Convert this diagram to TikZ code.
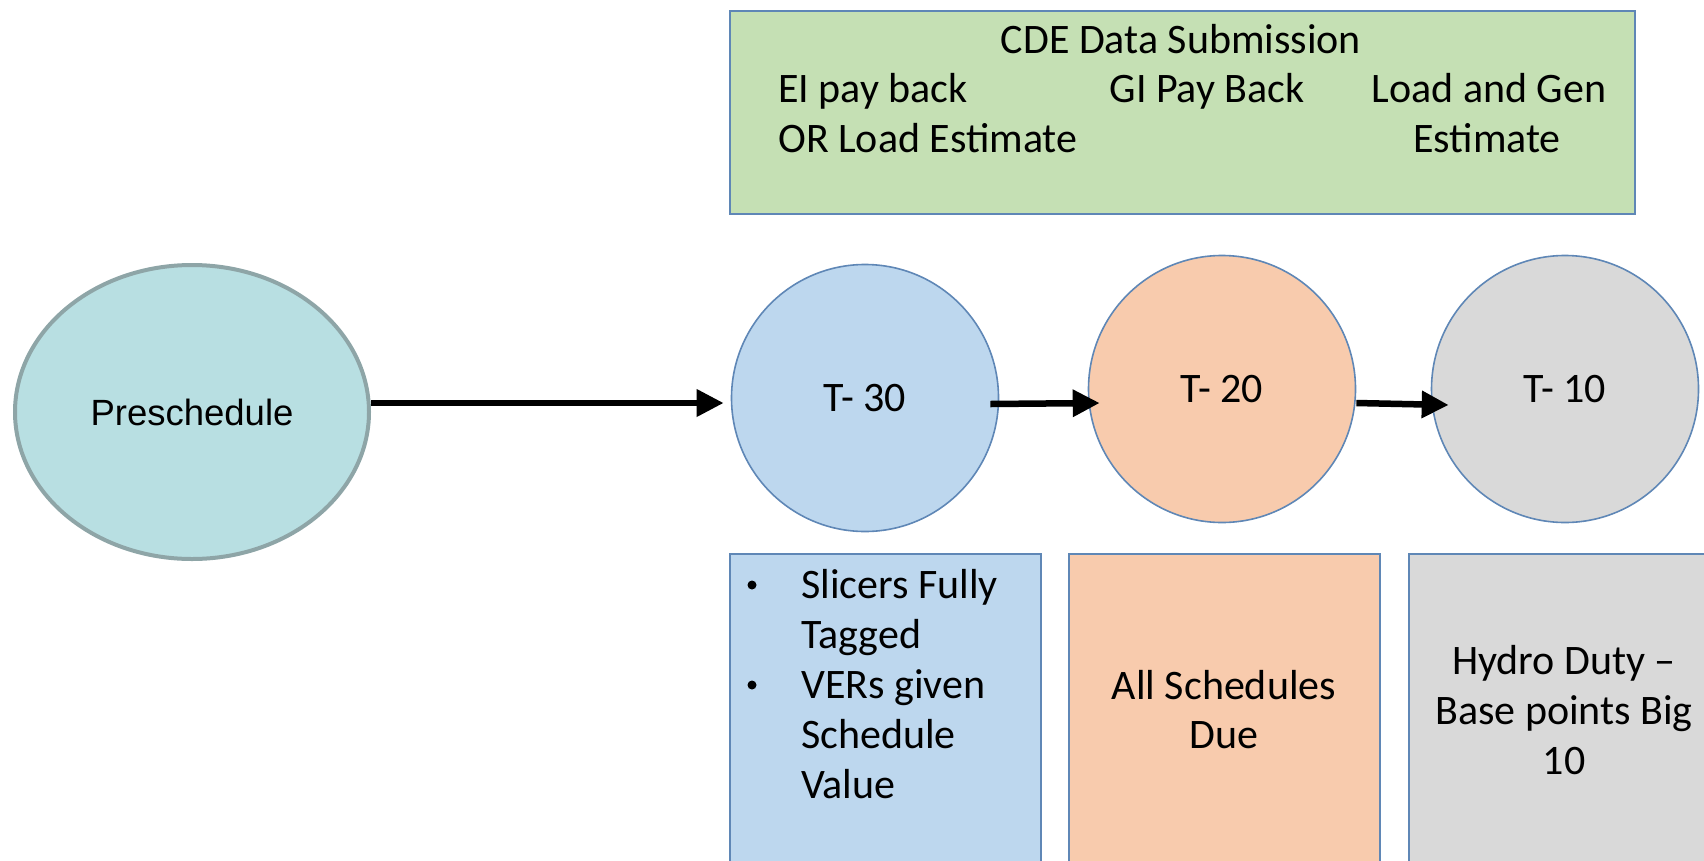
\documentclass[tikz,border=0pt]{standalone}
\usepackage{fontspec}
\setmainfont{Carlito}
\newfontfamily\arialfont{Liberation Sans}
\usetikzlibrary{arrows.meta,shapes.geometric}

\definecolor{greenfill}{HTML}{C5E0B4}
\definecolor{bluefill}{HTML}{BDD7EE}
\definecolor{peachfill}{HTML}{F8CBAD}
\definecolor{greyfill}{HTML}{D9D9D9}
\definecolor{tealfill}{HTML}{B8DFE2}
\definecolor{tealline}{HTML}{8EA5A7}
\definecolor{framecol}{HTML}{5F87B6}

\newcommand\bodyfont{\fontsize{42}{50}\selectfont}

\begin{document}
\begin{tikzpicture}[x=1pt,y=-1pt,
  panel/.style={draw=framecol,line width=1.8pt},
  stage/.style={circle,draw=framecol,line width=1.6pt,minimum size=267pt,inner sep=0pt,font=\bodyfont},
  txt/.style={inner sep=0pt,anchor=base,font=\bodyfont},
  txtl/.style={txt,anchor=base west},
  dot/.style={circle,fill=black,inner sep=0pt,minimum size=9pt},
  arr/.style={line width=6.5pt,-{Triangle[length=27pt,width=26pt]}}]
  \useasboundingbox (0,0) rectangle (1704,860);
  \clip (0,0) rectangle (1704,860);

  % submission panel
  \draw[panel,fill=greenfill] (730,11) rectangle (1635,214);
  \node[txt]  (cde)  at (1181,53)  {CDE Data Submission};
  \node[txtl] (ei)   at (778,102)  {EI pay back};
  \node[txtl] (orl)  at (778,152)  {OR Load Estimate};
  \node[txt]  (gi)   at (1207,102) {GI Pay Back};
  \node[txt]  (lg)   at (1489,102) {Load and Gen};
  \node[txt]  (est)  at (1487,152) {Estimate};

  % stages
  \node[ellipse,draw=tealline,line width=4pt,fill=tealfill,
        minimum width=354pt,minimum height=294pt,inner sep=0pt,
        font=\arialfont\fontsize{36.5}{44}\selectfont] (pre) at (192,412) {Preschedule};
  \node[stage,fill=bluefill]  (t30) at (865,398)  {T- 30};
  \node[stage,fill=peachfill] (t20) at (1222,389) {T- 20};
  \node[stage,fill=greyfill]  (t10) at (1565,389) {T- 10};

  % connectors
  \draw[arr] ([yshift=9pt]pre.east) -- ([xshift=-7pt,yshift=-5pt]t30.west);
  \draw[arr] ([xshift=-9pt,yshift=-6pt]t30.east) -- ([xshift=12pt,yshift=-14pt]t20.west);
  \draw[arr] ([yshift=-14pt]t20.east) -- ([xshift=18pt,yshift=-16pt]t10.west);

  % detail panels
  \draw[panel,fill=bluefill]  (730,554)  rectangle (1041,900);
  \draw[panel,fill=peachfill] (1069,554) rectangle (1380,900);
  \draw[panel,fill=greyfill]  (1409,554) rectangle (1730,900);

  \node[dot] (b1) at (752,585) {};
  \node[txtl] (s1)  at (801,598) {Slicers Fully};
  \node[txtl] (s2)  at (801,648) {Tagged};
  \node[dot] (b2) at (752,685) {};
  \node[txtl] (s3)  at (801,698) {VERs given};
  \node[txtl] (s4)  at (801,748) {Schedule};
  \node[txtl] (s5)  at (801,798) {Value};

  \node[txt] (a1) at (1224,699) {All Schedules};
  \node[txt] (a2) at (1224,748) {Due};

  \node[txt] (h1) at (1564,674) {Hydro Duty –};
  \node[txt] (h2) at (1564,724) {Base points Big};
  \node[txt] (h3) at (1564,774) {10};
\end{tikzpicture}
\end{document}
